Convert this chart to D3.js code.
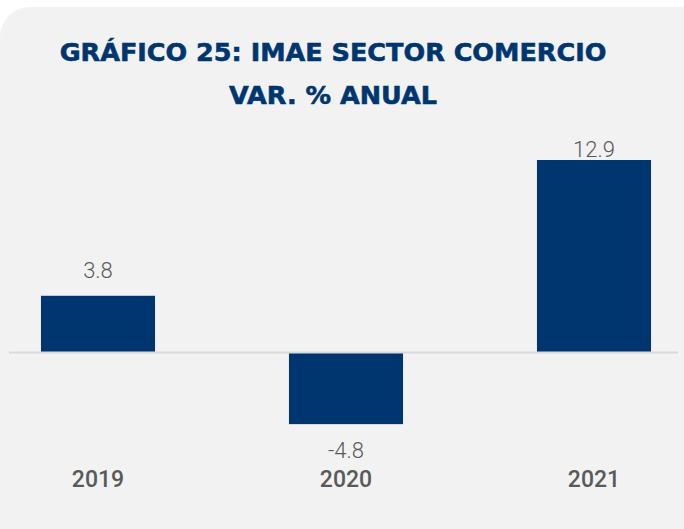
<!DOCTYPE html>
<html>
<head>
<meta charset="utf-8">
<script src="https://cdn.jsdelivr.net/npm/d3@7"></script>
<style>
	body { margin: 0; background: #fff; }
	svg { display: block; }
</style>
</head>
<body>
<svg id="chart"></svg>
<script>
const years = ['2019', '2020', '2021'];
const values = [3.8, -4.8, 12.9];
const title_lines = ['GRÁFICO 25: IMAE SECTOR COMERCIO', 'VAR. % ANUAL'];

const width = 684, height = 529;
const navy = '#00366f';
const grey_text = '#595959';

const svg = d3.select('#chart').attr('width', width).attr('height', height);

// card background
svg.append('rect')
	.attr('x', 0).attr('y', 7)
	.attr('width', width + 30).attr('height', height + 30)
	.attr('rx', 30)
	.attr('fill', '#f2f2f2');

svg.selectAll('text.title')
	.data(title_lines)
	.join('text')
	.attr('class', 'title')
	.attr('x', 333)
	.attr('y', (d, i) => 61 + i * 43)
	.attr('text-anchor', 'middle')
	.attr('font-family', '"DejaVu Sans", sans-serif')
	.attr('font-weight', 700)
	.attr('font-size', 25.5)
	.attr('fill', navy)
	.attr('stroke', navy)
	.attr('stroke-width', 0.6)
	.text(d => d);

const x = d3.scaleBand()
	.domain(years)
	.range([-26, 718])
	.paddingInner(0.54)
	.paddingOuter(0.27);

const y = d3.scaleLinear()
	.domain([0, 12.9])
	.range([352.5, 160]);

svg.append('g')
	.selectAll('rect')
	.data(years)
	.join('rect')
	.attr('x', d => x(d))
	.attr('width', x.bandwidth())
	.attr('y', (d, i) => Math.min(y(values[i]), y(0)))
	.attr('height', (d, i) => Math.abs(y(values[i]) - y(0)))
	.attr('fill', navy);

// zero line
svg.append('line')
	.attr('x1', 9).attr('x2', 678)
	.attr('y1', y(0)).attr('y2', y(0))
	.attr('stroke', '#d9d9d9')
	.attr('stroke-width', 2);

// value labels (top one sits tight on the bar, as in the source)
svg.append('g')
	.selectAll('text')
	.data(years)
	.join('text')
	.attr('x', d => x(d) + x.bandwidth() / 2)
	.attr('y', (d, i) => values[i] >= 0 ? Math.max(y(values[i]) - 18, 157) : y(values[i]) + 34)
	.attr('text-anchor', 'middle')
	.attr('font-family', 'Roboto, sans-serif')
	.attr('font-weight', 300)
	.attr('font-size', 22)
	.attr('fill', grey_text)
	.text((d, i) => values[i].toFixed(1));

// category labels
svg.append('g')
	.selectAll('text')
	.data(years)
	.join('text')
	.attr('x', d => x(d) + x.bandwidth() / 2)
	.attr('y', 487)
	.attr('text-anchor', 'middle')
	.attr('font-family', 'Roboto, sans-serif')
	.attr('font-weight', 500)
	.attr('font-size', 23)
	.attr('fill', grey_text)
	.text(d => d);
</script>
</body>
</html>
